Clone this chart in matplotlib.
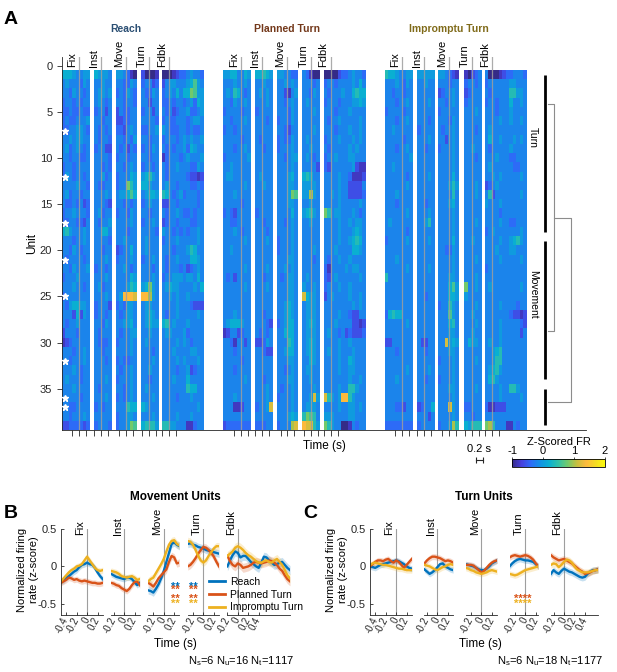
"""Unit heatmaps (z-scored FR) and population PSTHs for the movement / turn clusters."""

import numpy as np
import matplotlib
matplotlib.use("Agg")
import matplotlib.pyplot as plt
from matplotlib.colors import LinearSegmentedColormap
from matplotlib.lines import Line2D
from matplotlib.transforms import blended_transform_factory

plt.rcParams["font.family"] = ["Liberation Sans", "DejaVu Sans"]
plt.rcParams["axes.unicode_minus"] = False

CONDITIONS = ["Reach", "Planned Turn", "Impromptu Turn"]
EPOCHS = ["Fix", "Inst", "Move", "Turn", "Fdbk"]

# ---- heatmap (panel A) ----
HEAT_WINDOWS = [(-0.5, 0.3), (-0.2, 0.3), (-0.3, 0.3), (-0.25, 0.25), (-0.2, 1.0)]
HEAT_TICKS = [-0.2, 0.0, 0.2]
N_UNITS = 39
STARRED_UNITS = [7, 12, 17, 21, 25, 32, 36, 37]
CLUSTERS = [("Turn", 1, 18), ("Movement", 19, 34), ("", 35, 39)]
LEAF_ROWS = [4.1, 28.8, 36.5]
MERGE_DIST = [0.26, 1.0]

# one hex char per 0.1 s bin, Fix|Inst|Move|Turn|Fdbk; level k -> z = (k - 6) * 0.2
REACH_ROWS = [
    "77765566|76665|665421|31102|011234456554",
    "56555465|55655|554465|45534|356655567965",
    "55465545|56656|454654|54465|45657577a966",
    "45545455|56545|554554|55355|445455456476",
    "44544544|45535|354455|45535|545345564456",
    "45445556|55455|334455|55554|454455545665",
    "44556654|54545|443565|44556|654445545445",
    "55656655|54554|554546|55455|455545656556",
    "56456545|45533|545354|45465|545455647655",
    "55455445|55554|455455|55455|245554565556",
    "45545555|55454|554565|45545|545565554465",
    "46545545|55645|455576|67865|545555543323",
    "55556554|54455|455a86|77655|565545554454",
    "56455455|55565|566797|56776|875456455545",
    "54454534|55543|554545|45655|335545555545",
    "45565554|56455|455465|55455|545565445455",
    "44554435|54556|555565|45565|345545554455",
    "78655565|55775|555455|55554|655454545565",
    "55545565|55554|556555|56555|455565555565",
    "55465455|55455|345575|56555|555455568755",
    "54555545|55565|455565|45565|545565557765",
    "55465556|45545|556545|55545|545554534565",
    "45556555|55565|555576|55565|455666566575",
    "55565545|56455|555687|67a65|567665555657",
    "45555555|55565|56dddc|ddb65|556565565555",
    "54677665|45553|454665|56655|555565554333",
    "55537365|45545|545665|56765|545565555565",
    "54556555|55465|556675|56766|785655565555",
    "35554555|54555|545566|55655|566555645555",
    "23455555|54445|455565|56555|555565654555",
    "55545565|55455|555565|55545|555655556655",
    "55455565|55545|454455|55565|555565655565",
    "55565455|55555|545565|55655|555545563455",
    "56555455|55565|455565|55455|555655575555",
    "55565555|54555|554565|56555|555555587755",
    "55555455|55565|454565|55565|555545556555",
    "55445555|45455|555877|76555|555555555565",
    "55455565|55555|455665|55565|555565556555",
    "33444434|45554|4556a9|78886|886655522455",
]
PLANNED_ROWS = [
    "66775576|77876|665544|54211|001134456554",
    "55565565|55655|556565|55545|455455556575",
    "56587545|56565|553256|55465|545556557877",
    "55465565|55565|554565|56555|455545556676",
    "45555455|45555|555465|55565|555455565555",
    "55455565|55545|455465|55555|545565555565",
    "45545555|55555|554355|55565|555455565565",
    "55555455|54555|454465|56555|455565556565",
    "55545565|55455|455565|55655|545555565655",
    "45555556|55555|554566|56545|455655566555",
    "55655555|55555|555565|55553|435555556322",
    "56655555|56555|555675|78755|555565542223",
    "55555565|55655|555665|66665|555565533335",
    "55565555|55555|5556a9|66b65|556565533334",
    "55555455|55555|555665|55655|555565555565",
    "45435555|45555|555575|67865|a85665556545",
    "55445555|55455|554565|55655|555565565665",
    "55565455|55545|555565|55555|555565556765",
    "55555565|55565|455565|55555|555565567875",
    "55655555|55555|455565|55565|555655557765",
    "55555555|55555|555665|55545|545565565555",
    "55555565|55565|556565|55555|425555656655",
    "54535555|55455|545665|56555|435655555565",
    "55555565|55565|555665|65565|455565565555",
    "55555555|55555|555665|c7665|356555565565",
    "55555555|55555|556765|56665|555555556565",
    "55565555|55455|556765|56665|555565543355",
    "56777655|55543|456775|56765|555655553323",
    "23553455|54545|557775|56665|565545343334",
    "55425535|33465|555875|56765|555565565555",
    "55545555|55433|556775|56765|565565556555",
    "55555455|55555|555665|55765|555565576555",
    "55545555|55555|554565|56655|555565566555",
    "55555565|55455|555665|55655|555555565565",
    "55555555|55565|545565|55565|555565588655",
    "55565555|55565|455565|556c6|c8656dd86555",
    "55522355|4556c|555565|56665|555565566565",
    "55555555|55555|555676|8a985|666555566555",
    "34444444|44455|4555bc|dcc86|a86551125455",
]
IMPROMPTU_ROWS = [
    "87765566|66666|665432|21345|510023445554",
    "55565465|55655|555455|45545|455555566555",
    "55455455|55555|345565|34555|545555588665",
    "55545565|55565|554565|45555|455455575565",
    "45555455|55555|455555|55565|555455565555",
    "55545565|55545|555465|55555|555565565565",
    "55655555|45555|545565|55545|565555555555",
    "55555455|55565|553565|55555|575565556565",
    "55545565|55455|455565|55655|545555565555",
    "55555556|55555|555565|55545|555655544555",
    "55655555|55555|555565|55555|565555554455",
    "55555545|55565|555575|55555|556565555565",
    "55555565|55555|555686|55565|345655555555",
    "55565555|55555|555585|55565|583555555565",
    "55545555|55455|555675|55555|655565555555",
    "55555565|55565|555565|55555|555545555555",
    "56555555|55685|555565|55565|555565544555",
    "55555545|55555|555565|55555|456555555565",
    "45555565|55565|555575|55655|555565567865",
    "55555555|55555|554465|55555|555655566555",
    "55565555|55555|555565|55565|555565555565",
    "55555565|55565|555565|55555|455555555555",
    "85555555|55555|555665|55565|555555555555",
    "55555555|55555|555796|a5565|565555555565",
    "55555555|55455|555776|65555|555555555555",
    "55555555|55555|455865|55565|555565555455",
    "47877555|55555|555965|55655|555555543323",
    "55555565|55555|555785|55565|555565555543",
    "55555555|55555|555665|55655|555565555535",
    "33555555|53355|55c676|57665|565565555555",
    "55545555|55455|555665|55555|556785555555",
    "55555555|55555|455565|55565|556885555555",
    "55555565|55565|555565|55555|567865555555",
    "55565555|55455|455565|55555|578655555555",
    "55555555|55555|555665|55565|555565588655",
    "55555555|55555|555565|55555|555565555565",
    "55544355|34557|555c65|44555|422333555555",
    "55555555|55535|555565|55455|555555555555",
    "44444444|45555|4556b8|76888|ab8555225455",
]

# ---- PSTHs (panels B, C): values every 0.05 s, order Reach / Planned / Impromptu ----
B_WINDOWS = [(-0.5, 0.3), (-0.25, 0.3), (-0.3, 0.3), (-0.3, 0.3), (-0.2, 1.0)]
B_TICKS = [[-0.4, -0.2, 0, 0.2], [-0.2, 0, 0.2], [-0.2, 0, 0.2], [-0.2, 0, 0.2], [-0.2, 0, 0.2, 0.4]]
B_SEM = [0.04, 0.04, 0.05, 0.05, 0.06]
B_FIX = [
    [-0.2, -0.19, -0.15, -0.13, -0.1, -0.07, -0.05, -0.01, 0.02, 0.03, 0.05, 0.03, 0.02, -0.02, -0.08, -0.13, -0.17],
    [-0.22, -0.2, -0.18, -0.15, -0.16, -0.18, -0.17, -0.19, -0.2, -0.19, -0.2, -0.21, -0.22, -0.22, -0.23, -0.23, -0.22],
    [-0.2, -0.16, -0.12, -0.08, -0.05, -0.03, 0.0, 0.01, 0.03, 0.08, 0.13, 0.08, 0.03, -0.02, -0.05, -0.06, -0.05],
]
B_INST = [
    [-0.1, -0.12, -0.14, -0.15, -0.16, -0.17, -0.15, -0.15, -0.17, -0.21, -0.25, -0.22],
    [-0.22, -0.23, -0.25, -0.26, -0.29, -0.31, -0.33, -0.3, -0.25, -0.21, -0.2, -0.25],
    [-0.06, -0.07, -0.08, -0.1, -0.13, -0.14, -0.15, -0.14, -0.13, -0.15, -0.18, -0.17],
]
B_MOVE = [
    [-0.32, -0.33, -0.35, -0.3, -0.24, -0.16, -0.06, 0.06, 0.18, 0.3, 0.32, 0.29, 0.27],
    [-0.22, -0.24, -0.27, -0.22, -0.16, -0.12, -0.08, -0.04, 0.06, 0.14, 0.12, 0.04, 0.05],
    [-0.2, -0.17, -0.15, -0.09, -0.03, 0.03, 0.1, 0.2, 0.29, 0.34, 0.35, 0.3, 0.28],
]
B_TURN = [
    [0.3, 0.31, 0.29, 0.28, 0.26, 0.25, 0.24, 0.22, 0.21, 0.2, 0.19, 0.18, 0.17],
    [0.0, 0.02, 0.06, 0.11, 0.17, 0.22, 0.26, 0.25, 0.22, 0.18, 0.13, 0.06, 0.0],
    [0.34, 0.33, 0.29, 0.22, 0.14, 0.08, 0.05, 0.08, 0.14, 0.19, 0.24, 0.27, 0.27],
]
B_FDBK = [
    [0.0, 0.08, 0.15, 0.2, 0.18, 0.12, 0.14, 0.14, 0.1, 0.06, 0.03, 0.0, -0.02, 0.05, 0.13, 0.12, 0.08,
     0.05, 0.02, 0.03, 0.05, 0.06, 0.02, -0.02, -0.05],
    [0.14, 0.07, 0.02, 0.0, 0.04, 0.02, -0.02, -0.01, 0.0, 0.02, 0.05, 0.06, 0.05, 0.04, 0.05, 0.06, 0.08,
     0.07, 0.05, 0.02, -0.03, -0.06, -0.12, -0.17, -0.2],
    [0.14, 0.17, 0.2, 0.25, 0.27, 0.25, 0.22, 0.18, 0.15, 0.13, 0.1, 0.07, 0.05, 0.05, 0.07, 0.08, 0.06,
     0.05, 0.08, 0.1, 0.06, 0.02, -0.05, -0.12, -0.16],
]
B_SIG = [  # epoch, time, text, condition index, y
    ("Move", 0.23, "**", 0, -0.27), ("Move", 0.23, "**", 1, -0.32),
    ("Move", 0.23, "**", 1, -0.44), ("Move", 0.23, "**", 2, -0.5),
    ("Turn", -0.2, "**", 0, -0.27), ("Turn", -0.2, "**", 1, -0.32),
    ("Turn", -0.2, "**", 1, -0.44), ("Turn", -0.2, "**", 2, -0.5),
]

C_WINDOWS = [(-0.5, 0.3), (-0.25, 0.3), (-0.3, 0.3), (-0.3, 0.25), (-0.25, 0.65)]
C_TICKS = B_TICKS
C_SEM = [0.04, 0.04, 0.04, 0.04, 0.045]
C_FIX = [
    [0.0, -0.01, -0.02, 0.0, 0.02, 0.03, 0.04, 0.05, 0.06, 0.07, 0.08, 0.07, 0.05, 0.03, 0.0, -0.02, -0.03],
    [0.0, 0.03, 0.06, 0.08, 0.08, 0.07, 0.09, 0.1, 0.07, 0.05, 0.08, 0.06, 0.02, -0.02, 0.02, 0.06, 0.1],
    [0.02, 0.04, 0.05, 0.04, 0.03, 0.02, 0.02, 0.01, 0.0, -0.01, -0.02, -0.03, -0.03, -0.04, -0.05, -0.05, -0.05],
]
C_INST = [
    [-0.04, -0.07, -0.1, -0.08, -0.05, -0.01, 0.03, 0.04, 0.0, -0.02, -0.04, -0.05],
    [0.04, 0.08, 0.11, 0.13, 0.13, 0.12, 0.11, 0.09, 0.07, 0.08, 0.07, 0.05],
    [0.02, 0.01, 0.0, -0.02, -0.04, -0.05, -0.03, -0.01, 0.0, 0.02, 0.03, 0.02],
]
C_MOVE = [
    [0.03, 0.02, 0.01, 0.0, -0.02, -0.04, -0.05, -0.05, -0.03, 0.0, 0.04, 0.06, 0.08],
    [0.02, 0.02, 0.02, 0.01, -0.02, -0.05, -0.08, -0.06, -0.02, 0.02, 0.05, 0.07, 0.08],
    [-0.02, -0.03, -0.05, -0.06, -0.08, -0.09, -0.1, -0.09, -0.08, -0.06, -0.05, -0.06, -0.07],
]
C_TURN = [
    [0.0, 0.04, 0.07, 0.09, 0.1, 0.09, 0.08, 0.08, 0.07, 0.06, 0.03, 0.0],
    [0.12, 0.14, 0.15, 0.14, 0.13, 0.14, 0.15, 0.14, 0.12, 0.09, 0.04, 0.0],
    [-0.1, -0.11, -0.12, -0.11, -0.09, -0.07, -0.05, -0.04, -0.03, -0.02, -0.01, 0.0],
]
C_FDBK = [
    [-0.1, -0.05, -0.08, -0.1, -0.06, -0.03, -0.05, -0.07, -0.08, -0.1, -0.12, -0.14, -0.15, -0.14, -0.1,
     -0.07, -0.05, -0.05, -0.04],
    [0.15, 0.12, 0.1, 0.08, 0.09, 0.1, 0.08, 0.06, 0.04, 0.01, -0.02, -0.05, -0.07, -0.1, -0.09, -0.08,
     -0.06, -0.05, -0.04],
    [0.02, 0.04, 0.03, -0.01, 0.02, 0.06, 0.09, 0.08, 0.05, 0.0, -0.04, -0.06, -0.08, -0.08, -0.08, -0.07,
     -0.06, -0.05, -0.05],
]
C_SIG = [("Turn", -0.05, "****", 1, -0.44), ("Turn", -0.05, "****", 2, -0.5)]

B_COUNTS = (6, 16, 1117)
C_COUNTS = (6, 18, 1177)

# ---- style ----
COLORS = [(0.0, 0.447, 0.741), (0.85, 0.325, 0.098), (0.929, 0.694, 0.125)]
TITLE_COLORS = [(0.17, 0.31, 0.45), (0.45, 0.22, 0.1), (0.5, 0.42, 0.1)]
EVENT_GRAY = (0.62, 0.62, 0.62)
AX_COLOR = (0.15, 0.15, 0.15)
PARULA = LinearSegmentedColormap.from_list("parula", [
    (0.0, (0.21, 0.17, 0.53)), (0.1, (0.28, 0.25, 0.87)), (0.2, (0.18, 0.42, 0.97)),
    (0.3, (0.07, 0.57, 0.90)), (0.4, (0.04, 0.69, 0.82)), (0.5, (0.20, 0.76, 0.65)),
    (0.6, (0.45, 0.79, 0.42)), (0.7, (0.78, 0.75, 0.24)), (0.8, (0.99, 0.73, 0.24)),
    (0.9, (0.96, 0.86, 0.14)), (1.0, (0.98, 0.98, 0.05)),
])

W, H = 617, 672
HEAT_GAP, COND_GAP, DENDRO_ROOM = 0.12, 0.56, 1.70


def fx(px):
    return px / W


def fy(py):
    return 1 - py / H


def decode(rows):
    return np.array([[(int(c, 16) - 6) * 0.2 for c in r.replace("|", "")] for r in rows])


def offsets(windows, gap):
    out, x = [], 0.0
    for w0, w1 in windows:
        out.append(x)
        x += (w1 - w0) + gap
    return out, x - gap


def style_axis(ax, direction="out"):
    for side in ("top", "right"):
        ax.spines[side].set_visible(False)
    for side in ("left", "bottom"):
        ax.spines[side].set_color(AX_COLOR)
        ax.spines[side].set_linewidth(0.6)
    ax.tick_params(colors=AX_COLOR, width=0.6, length=3.5, direction=direction, labelsize=8)


fig = plt.figure(figsize=(W / 100, H / 100), dpi=100)

# ================= panel A =================
ax = fig.add_axes([fx(62), fy(430), fx(586 - 62), (430 - 57) / H])
style_axis(ax)
seg_x, cond_w = offsets(HEAT_WINDOWS, HEAT_GAP)
cond_x = [i * (cond_w + COND_GAP) for i in range(len(CONDITIONS))]
heat_end = cond_x[-1] + cond_w
bins = np.cumsum([0] + [len(p) for p in REACH_ROWS[0].split("|")])

xticks = []
for ci, rows in enumerate([REACH_ROWS, PLANNED_ROWS, IMPROMPTU_ROWS]):
    z = decode(rows)
    for si, (w0, w1) in enumerate(HEAT_WINDOWS):
        x0 = cond_x[ci] + seg_x[si]
        im = ax.imshow(z[:, bins[si]:bins[si + 1]], cmap=PARULA, vmin=-1, vmax=2, aspect="auto",
                       interpolation="nearest", extent=(x0, x0 + w1 - w0, N_UNITS + 0.5, 0.5))
        xe = x0 - w0
        ax.plot([xe, xe], [-1, N_UNITS + 0.5], color=EVENT_GRAY, lw=0.9, alpha=0.85, zorder=3)
        ax.text(xe - 0.06, 0.1, EPOCHS[si], rotation=90, ha="right", va="bottom", fontsize=8)
        xticks += [xe + t for t in HEAT_TICKS]
    move_evt = cond_x[ci] + seg_x[2] - HEAT_WINDOWS[2][0]
    ax.text(move_evt, 1.075, CONDITIONS[ci], transform=blended_transform_factory(ax.transData, ax.transAxes),
            ha="center", va="center", fontsize=7.5, fontweight="bold", color=TITLE_COLORS[ci])

ax.plot(np.full(len(STARRED_UNITS), 0.1), STARRED_UNITS, ls="none", marker="*", ms=5,
        color="white", mec="white", zorder=4)

# dendrogram of cluster assignments
bar_x, leaf_x, d_scale = heat_end + 0.52, heat_end + 0.61, 0.65
for name, first, last in CLUSTERS:
    ax.plot([bar_x, bar_x], [first, last], color="black", lw=2, solid_capstyle="butt")
    if name:
        ax.text(heat_end + 0.17, (first + last) / 2 - 1.75, name, rotation=-90, ha="center",
                va="center", fontsize=7.5)
x1 = leaf_x + MERGE_DIST[0] * d_scale
x2 = leaf_x + MERGE_DIST[1] * d_scale
node1 = (LEAF_ROWS[0] + LEAF_ROWS[1]) / 2
dg = dict(color=(0.55, 0.55, 0.55), lw=0.8)
ax.plot([leaf_x, x1, x1, leaf_x], [LEAF_ROWS[0], LEAF_ROWS[0], LEAF_ROWS[1], LEAF_ROWS[1]], **dg)
ax.plot([x1, x2, x2, leaf_x], [node1, node1, LEAF_ROWS[2], LEAF_ROWS[2]], **dg)

ax.set_xlim(0, heat_end + DENDRO_ROOM)
ax.set_ylim(N_UNITS + 0.5, -1)
ax.set_xticks(xticks)
ax.tick_params(axis="x", labelbottom=False, length=4)
ax.set_yticks(range(0, 36, 5))
ax.set_ylabel("Unit", fontsize=8.5, labelpad=1)
ax.set_xlabel("Time (s)", fontsize=8.5, labelpad=3)

# 0.2 s scale bar
bt = blended_transform_factory(ax.transData, ax.transAxes)
sb0 = cond_x[2] + seg_x[3] + 0.35
ax.plot([sb0, sb0 + 0.2], [-0.08, -0.08], color=AX_COLOR, lw=0.8, marker="|", ms=4, mew=0.8,
        transform=bt, clip_on=False)
ax.text(sb0 + 0.1, -0.051, "0.2 s", transform=bt, ha="center", va="center", fontsize=8)

cax = fig.add_axes([fx(512), fy(467), fx(605 - 512), 8 / H])
cb = fig.colorbar(im, cax=cax, orientation="horizontal", ticks=[-1, 0, 1, 2])
cb.outline.set_linewidth(0.6)
cax.xaxis.set_ticks_position("top")
cax.xaxis.set_label_position("top")
cax.tick_params(labelsize=8, length=1.5, width=0.5, pad=0.5)
cb.set_label("Z-Scored FR", fontsize=8, labelpad=1)

fig.text(fx(4), fy(19), "A", fontsize=14, fontweight="bold", va="center")


# ================= panels B, C =================
def draw_psth(left_px, right_px, windows, gap, traces, sem, ticks, sig):
    durs = [w1 - w0 for w0, w1 in windows]
    scale = (right_px - left_px) / (sum(durs) + gap * (len(durs) - 1))
    axes, x = {}, left_px
    for i, ep in enumerate(EPOCHS):
        w0, w1 = windows[i]
        a = fig.add_axes([fx(x), fy(615), durs[i] * scale / W, (615 - 529) / H])
        x += (durs[i] + gap) * scale
        style_axis(a, direction="in")
        a.tick_params(length=2.5, pad=2)
        for ci in range(len(CONDITIONS)):
            y = np.asarray(traces[i][ci])
            t = np.linspace(w0, w1, len(y))
            a.fill_between(t, y - sem[i], y + sem[i], color=COLORS[ci], alpha=0.22, lw=0)
            a.plot(t, y, color=COLORS[ci], lw=1.7)
        a.axvline(0, color=EVENT_GRAY, lw=0.8, zorder=0)
        a.text(-0.03, 0.42, ep, rotation=90, ha="right", va="bottom", fontsize=8)
        a.set_xlim(w0, w1)
        a.set_ylim(-0.65, 0.5)
        a.set_xticks(ticks[i])
        a.set_xticklabels([f"{v:g}" for v in ticks[i]], rotation=62, ha="right", va="center",
                          rotation_mode="anchor", fontsize=7)
        if i == 0:
            a.set_yticks([-0.5, 0, 0.5])
            a.set_yticklabels(["-0.5", "0", "0.5"])
            a.tick_params(axis="y", pad=3)
        else:
            a.spines["left"].set_visible(False)
            a.set_yticks([])
        axes[ep] = a
    for ep, t, txt, ci, y in sig:
        axes[ep].text(t, y, txt, color=COLORS[ci], ha="center", va="center", fontsize=8,
                      fontweight="bold")
    return axes


draw_psth(61, 290, B_WINDOWS, 0.16, [B_FIX, B_INST, B_MOVE, B_TURN, B_FDBK], B_SEM, B_TICKS, B_SIG)
draw_psth(370, 598, C_WINDOWS, 0.24, [C_FIX, C_INST, C_MOVE, C_TURN, C_FDBK], C_SEM, C_TICKS, C_SIG)

for letter, lx, title, tx, ylx, tlx, counts, ncx in [
    ("B", 4, "Movement Units", 175, 28, 175, B_COUNTS, 241),
    ("C", 303, "Turn Units", 484, 337, 480, C_COUNTS, 550),
]:
    fig.text(fx(lx), fy(514), letter, fontsize=14, fontweight="bold", va="center")
    fig.text(fx(tx), fy(497), title, fontsize=8.5, fontweight="bold", ha="center", va="center")
    fig.text(fx(ylx), fy(570), "Normalized firing\nrate (z-score)", rotation=90, ha="center",
             va="center", fontsize=8, linespacing=1.15)
    fig.text(fx(tlx), fy(644), "Time (s)", ha="center", va="center", fontsize=8.5)
    ns, nu, nt = counts
    fig.text(fx(ncx), fy(661), rf"N$_\mathregular{{s}}$={ns} N$_\mathregular{{u}}$={nu} "
             rf"N$_\mathregular{{t}}$={nt}", ha="center", va="center", fontsize=8)

handles = [Line2D([0], [0], color=c, lw=2) for c in COLORS]
fig.legend(handles, CONDITIONS, loc="upper left", bbox_to_anchor=(fx(209), fy(577)), frameon=False,
           fontsize=7.5, handlelength=1.5, handletextpad=0.5, labelspacing=0.25, borderpad=0,
           borderaxespad=0)

fig.savefig("out.png", dpi=100)
